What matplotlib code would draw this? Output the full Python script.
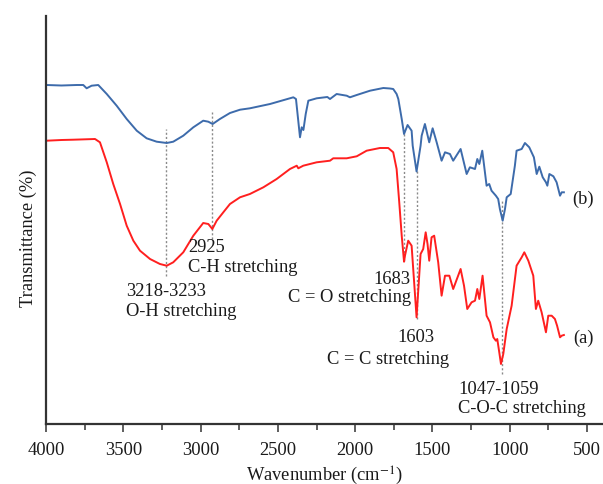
import numpy as np
import matplotlib
matplotlib.use("Agg")
import matplotlib.pyplot as plt
from matplotlib.ticker import MultipleLocator

# FTIR spectra, values (arbitrary transmittance units)
wn_b = [3996, 3900, 3800, 3759, 3737, 3705, 3662, 3607, 3543, 3478, 3413, 3349,
        3284, 3219, 3177, 3112, 3047, 2983, 2950, 2922, 2875, 2810, 2745, 2681,
        2551, 2400, 2383, 2357, 2346, 2335, 2320, 2303, 2249, 2180, 2163, 2120,
        2055, 2034, 1990, 1904, 1818, 1775, 1754, 1732, 1721, 1710, 1699, 1684,
        1661, 1635, 1628, 1603, 1577, 1570, 1549, 1521, 1499, 1473, 1441, 1419,
        1387, 1366, 1318, 1279, 1258, 1225, 1210, 1197, 1178, 1150, 1133, 1118,
        1090, 1075, 1064, 1046, 1031, 1020, 994, 967, 956, 923, 902, 874, 844,
        826, 809, 787, 766, 757, 744, 718, 697, 675, 664, 650]
t_b = [339, 338.5, 339, 339, 335.7, 338.3, 339, 330, 318.3, 305, 293.3, 285.7,
       282.3, 281, 282.3, 288.3, 296.7, 303.3, 302.3, 300, 305, 311, 314.3, 315.7,
       320, 326.7, 325, 286.7, 296.7, 294, 310, 323.3, 325.7, 327, 325, 330,
       328.3, 326.7, 329, 333.3, 336, 335.5, 335, 330, 325, 315, 305, 290,
       299, 293.3, 278.3, 252.5, 278.3, 288.3, 300, 281.7, 295.7, 281.7, 263.3, 271.7,
       270, 263.3, 275, 250, 256.7, 255, 265, 260, 273.3, 238.3, 240, 233.3,
       228.3, 225, 215, 203.3, 215, 226.7, 230, 258.3, 273.3, 275, 281, 276.7, 266.7,
       250, 257.3, 246.7, 241.7, 238.3, 250, 247.7, 241.7, 228.3, 231.7, 231.7]

wn_a = [3996, 3900, 3823, 3683, 3651, 3607, 3565, 3521, 3478, 3435, 3392, 3327,
        3263, 3219, 3177, 3112, 3047, 2983, 2950, 2924, 2896, 2853, 2810, 2745,
        2681, 2594, 2508, 2422, 2378, 2368, 2336, 2249, 2163, 2142, 2055, 1990,
        1926, 1840, 1786, 1754, 1732, 1715, 1699, 1684, 1678, 1657, 1635, 1603,
        1577, 1560, 1544, 1532, 1521, 1506, 1489, 1463, 1441, 1419, 1391, 1366,
        1318, 1296, 1275, 1247, 1225, 1210, 1197, 1176, 1150, 1128, 1106, 1090,
        1081, 1068, 1057, 1042, 1020, 988, 956, 923, 906, 880, 848, 831, 816,
        794, 766, 751, 729, 708, 694, 675, 664, 650]
t_a = [283.3, 284, 284.3, 285, 281.7, 261.7, 240, 220, 198.3, 183.3, 173.3, 165,
       160, 158.3, 161.7, 171.7, 188.3, 201, 200, 195, 203.3, 211.7, 220, 226.7,
       230, 236.7, 245, 255, 258.3, 255.7, 258.3, 261.7, 263.3, 265.7, 265.7, 267.7,
       273.3, 276, 276, 271.7, 255, 221.7, 188.3, 162.3, 168.3, 183.3, 178.3, 106.7,
       170, 175, 191.7, 180, 163.3, 186.7, 188.3, 161.7, 128.3, 148.3, 148.3, 135,
       155, 138.3, 115, 121.7, 123.3, 135, 125, 148.3, 108.3, 101.7, 86.7, 83.3,
       85, 71.7, 60, 70, 95, 118.3, 158.3, 166.7, 171.7, 163.3, 148.3, 115, 123.3,
       111.7, 91.7, 108.3, 108.3, 105, 98.3, 86.7, 88.3, 89]

# assigned bands (dotted guide lines)
peak_wn = [3225, 2925, 1683, 1603, 1050]
peak_top = [295, 312, 293, 253, 223]
peak_bot = [148, 185, 163, 105, 50]

plt.rcParams['font.family'] = ['Liberation Serif', 'DejaVu Serif']
plt.rcParams['mathtext.fontset'] = 'stix'

fig = plt.figure(figsize=(6.03, 4.85), dpi=100)
ax = fig.add_axes([46 / 603, 60 / 485, 557 / 603, 408 / 485])

ax.vlines(peak_wn, peak_bot, peak_top, colors='#8a8a8a', linestyles=(0, (1.5, 1.5)), linewidth=1)
ax.plot(wn_b, t_b, color='#3d6bab', linewidth=1.4)
ax.plot(wn_a, t_a, color='#ff1f1f', linewidth=1.4)

fs = 13.3
tc = '#1a1a1a'
ax.text(3080, 177, '2925', fontsize=fs, color=tc, va='center')
ax.text(3080, 157, 'C-H stretching', fontsize=fs, color=tc, va='center')
ax.text(3483, 133, '3218-3233', fontsize=fs, color=tc, va='center')
ax.text(3483, 114, 'O-H stretching', fontsize=fs, color=tc, va='center')
ax.text(1642, 146, '1683', fontsize=fs, color=tc, va='center', ha='right')
ax.text(1639, 128, 'C = O stretching', fontsize=fs, color=tc, va='center', ha='right')
ax.text(1607, 88, '1603', fontsize=fs, color=tc, va='center', ha='center')
ax.text(1393, 66, 'C = C stretching', fontsize=fs, color=tc, va='center', ha='right')
ax.text(1330, 35, '1047-1059', fontsize=fs, color=tc, va='center')
ax.text(1335, 16, 'C-O-C stretching', fontsize=fs, color=tc, va='center')
ax.text(591, 87, '(a)', fontsize=fs, color=tc, va='center')
ax.text(598, 226, '(b)', fontsize=fs, color=tc, va='center')

ax.set_xlim(4000, 397)
ax.set_ylim(0, 408)
ax.xaxis.set_major_locator(MultipleLocator(500))
ax.xaxis.set_minor_locator(MultipleLocator(250))
ax.set_yticks([])
ax.tick_params(axis='x', which='major', length=6, width=1.1, labelsize=fs, pad=6, colors='#333333', labelcolor=tc)
ax.tick_params(axis='x', which='minor', length=4, width=1.1, colors='#333333')
for s in ['top', 'right']:
    ax.spines[s].set_visible(False)
for s in ['left', 'bottom']:
    ax.spines[s].set_linewidth(1.6)
    ax.spines[s].set_color('#333333')

ax.set_xlabel('Wavenumber (cm$^{-1}$)', fontsize=fs, color=tc, labelpad=4)
ax.set_ylabel('Transmittance (%)', fontsize=fs, color=tc)
ax.yaxis.set_label_coords(-0.016, 0.458)

fig.savefig('out.png', dpi=100)
